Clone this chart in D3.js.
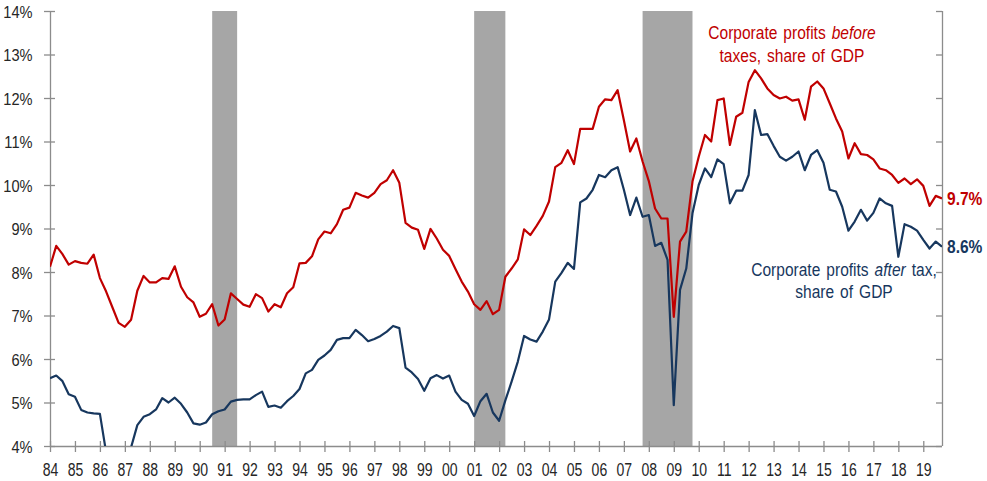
<!DOCTYPE html>
<html>
<head>
<meta charset="utf-8">
<script src="https://cdn.jsdelivr.net/npm/d3@7"></script>
<style>
  html, body { margin: 0; padding: 0; background: #fff; }
  svg { display: block; }
  text { font-family: "Liberation Sans", Arial, sans-serif; }
</style>
</head>
<body>
<svg id="chart" width="987" height="481"></svg>
<script>
// ---- Data (quarterly, 1984Q1 .. 2019Q4), % of GDP ----
const startYear = 1984;
const beforeTax = [
  8.12, 8.60, 8.41, 8.17,   // 84
  8.25, 8.21, 8.19, 8.40,   // 85
  7.86, 7.55, 7.19, 6.83,   // 86
  6.74, 6.90, 7.57, 7.91,   // 87
  7.76, 7.76, 7.86, 7.84,   // 88
  8.13, 7.66, 7.42, 7.30,   // 89
  6.97, 7.04, 7.26, 6.77,   // 90
  6.91, 7.51, 7.38, 7.25,   // 91
  7.20, 7.49, 7.40, 7.09,   // 92
  7.26, 7.19, 7.51, 7.65,   // 93
  8.20, 8.21, 8.36, 8.75,   // 94
  8.93, 8.89, 9.10, 9.43,   // 95
  9.48, 9.82, 9.76, 9.71,   // 96
  9.82, 10.02, 10.11, 10.34, // 97
  10.05, 9.13, 9.02, 8.97,  // 98
  8.53, 8.99, 8.77, 8.51,   // 99
  8.37, 8.07, 7.78, 7.55,   // 00
  7.26, 7.13, 7.33, 7.03,   // 01
  7.13, 7.89, 8.08, 8.29,   // 02
  8.98, 8.85, 9.06, 9.29,   // 03
  9.62, 10.41, 10.51, 10.80, // 04
  10.48, 11.29, 11.29, 11.29, // 05
  11.80, 11.97, 11.95, 12.18, // 06
  11.49, 10.77, 11.07, 10.54, // 07
  10.09, 9.46, 9.23, 9.23,  // 08
  6.97, 8.70, 8.93, 10.08,  // 09
  10.65, 11.15, 11.00, 11.95, // 10
  11.99, 10.92, 11.57, 11.66, // 11
  12.37, 12.64, 12.45, 12.22, // 12
  12.07, 11.99, 12.03, 11.94, // 13
  11.97, 11.50, 12.26, 12.38, // 14
  12.22, 11.88, 11.53, 11.23, // 15
  10.61, 10.96, 10.71, 10.69, // 16
  10.59, 10.38, 10.34, 10.23, // 17
  10.05, 10.15, 10.02, 10.13, // 18
  9.98, 9.52, 9.75, 9.69    // 19
];
const afterTax = [
  5.56, 5.62, 5.49, 5.19,   // 84
  5.13, 4.83, 4.77, 4.75,   // 85
  4.74, 3.85, 3.60, 3.50,   // 86
  3.60, 3.97, 4.48, 4.67,   // 87
  4.73, 4.84, 5.10, 5.00,   // 88
  5.11, 4.97, 4.77, 4.52,   // 89
  4.49, 4.54, 4.73, 4.80,   // 90
  4.84, 5.02, 5.06, 5.07,   // 91
  5.07, 5.17, 5.25, 4.90,   // 92
  4.93, 4.88, 5.03, 5.15,   // 93
  5.31, 5.67, 5.75, 5.98,   // 94
  6.08, 6.21, 6.44, 6.48,   // 95
  6.48, 6.67, 6.55, 6.41,   // 96
  6.46, 6.53, 6.63, 6.76,   // 97
  6.71, 5.80, 5.69, 5.54,   // 98
  5.27, 5.56, 5.63, 5.55,   // 99
  5.62, 5.25, 5.06, 4.97,   // 00
  4.69, 5.03, 5.20, 4.77,   // 01
  4.58, 5.05, 5.48, 5.94,   // 02
  6.53, 6.45, 6.40, 6.63,   // 03
  6.91, 7.78, 7.98, 8.21,   // 04
  8.07, 9.60, 9.69, 9.89,   // 05
  10.23, 10.18, 10.34, 10.41, // 06
  9.89, 9.31, 9.71, 9.27,   // 07
  9.31, 8.60, 8.67, 8.28,   // 08
  4.94, 7.59, 8.08, 9.35,   // 09
  10.00, 10.38, 10.18, 10.59, // 10
  10.48, 9.58, 9.87, 9.87,  // 11
  10.23, 11.72, 11.15, 11.17, // 12
  10.90, 10.65, 10.56, 10.65, // 13
  10.77, 10.34, 10.69, 10.80, // 14
  10.51, 9.89, 9.85, 9.50,  // 15
  8.95, 9.16, 9.43, 9.18,   // 16
  9.36, 9.69, 9.58, 9.52,   // 17
  8.35, 9.10, 9.04, 8.95,   // 18
  8.74, 8.54, 8.70, 8.58    // 19
];
// Recessions (start, end) in fractional years
const recessionStarts = [1990.5, 2001.0, 2007.75];
const recessionEnds   = [1991.5, 2002.25, 2009.75];
// Axis ticks
const yearTicks = d3.range(1984, 2020);
const yearLabels = yearTicks.map(v => String(v % 100).padStart(2, "0"));
const yTicks = [4, 5, 6, 7, 8, 9, 10, 11, 12, 13, 14];
const yLabels = yTicks.map(v => v + "%");
const endLabels = ["9.7%", "8.6%"];

// ---- Layout ----
const svg = d3.select("#chart");
const mLeft = 50, mRight = 942, mTop = 11, mBottom = 446;
const RED = "#C00000", BLUE = "#17375E", GREY_AXIS = "#8C8C8C", TXT = "#262626";
const SX_X = 0.76, SX_Y = 0.86, SX_T = 0.84;   // horizontal condensing of text

const x = d3.scaleLinear().domain([1984, 2019.75]).range([mLeft, mRight]);
const y = d3.scaleLinear().domain([4, 14]).range([mBottom, mTop]);

svg.append("rect").attr("width", 987).attr("height", 481).attr("fill", "#fff");

svg.append("defs").append("clipPath").attr("id", "plot")
  .append("rect").attr("x", mLeft).attr("y", mTop)
  .attr("width", mRight - mLeft).attr("height", mBottom - mTop);

// Recession bars
svg.append("g").selectAll("rect")
  .data(recessionStarts.map((s, i) => [s, recessionEnds[i]]))
  .join("rect")
  .attr("x", d => x(d[0]))
  .attr("width", d => x(d[1]) - x(d[0]))
  .attr("y", y(14))
  .attr("height", y(4) - y(14))
  .attr("fill", "#A6A6A6");

// Axes
const yAxisL = d3.axisLeft(y).tickValues(yTicks).tickFormat((d, i) => yLabels[i]).tickSize(6).tickPadding(11);
const gL = svg.append("g").attr("transform", `translate(${mLeft},0)`).call(yAxisL);
gL.select(".domain").attr("d", `M0.5,${mTop}V${mBottom}`).attr("stroke", GREY_AXIS).attr("stroke-width", 1.3);
gL.selectAll(".tick line").attr("x1", 5).attr("x2", -6).attr("stroke", GREY_AXIS).attr("stroke-width", 1.3);
gL.selectAll(".tick text").attr("font-size", 17).attr("fill", TXT)
  .attr("font-family", "'Liberation Sans', Arial, sans-serif")
  .attr("x", -17.5 / SX_Y).attr("dy", "0.36em")
  .attr("transform", `scale(${SX_Y},1)`);

const yAxisR = d3.axisLeft(y).tickValues(yTicks).tickFormat("").tickSize(6);
const gR = svg.append("g").attr("transform", `translate(${mRight},0)`).call(yAxisR);
gR.select(".domain").attr("d", `M0.5,${mTop}V${mBottom}`).attr("stroke", GREY_AXIS).attr("stroke-width", 1.3);
gR.selectAll(".tick line").attr("stroke", GREY_AXIS).attr("stroke-width", 1.3);

const xAxis = d3.axisBottom(x).tickValues(yearTicks).tickFormat((d, i) => yearLabels[i]).tickSize(6).tickPadding(12);
const gX = svg.append("g").attr("transform", `translate(0,${mBottom})`).call(xAxis);
gX.select(".domain").attr("d", `M${mLeft},0.5H${mRight}`).attr("stroke", GREY_AXIS).attr("stroke-width", 1.3);
gX.selectAll(".tick line").attr("y1", -5).attr("y2", 6).attr("stroke", GREY_AXIS).attr("stroke-width", 1.3);
gX.selectAll(".tick text").attr("font-size", 18.5).attr("fill", TXT)
  .attr("font-family", "'Liberation Sans', Arial, sans-serif")
  .attr("y", 17).attr("dy", "0.71em")
  .attr("transform", `scale(${SX_X},1)`);

// Lines
const line = d3.line()
  .x((d, i) => x(startYear + i / 4))
  .y(d => y(d));

const lines = svg.append("g").attr("clip-path", "url(#plot)");
lines.append("path").datum(beforeTax).attr("d", line)
  .attr("fill", "none").attr("stroke", RED).attr("stroke-width", 2.2).attr("stroke-linejoin", "round");
lines.append("path").datum(afterTax).attr("d", line)
  .attr("fill", "none").attr("stroke", BLUE).attr("stroke-width", 2.2).attr("stroke-linejoin", "round");

// End labels
svg.append("text")
  .attr("transform", `translate(947,${y(beforeTax[beforeTax.length - 1]) + 6.5}) scale(${SX_T},1)`)
  .attr("font-size", 18.5).attr("font-weight", "bold").attr("fill", RED).text(endLabels[0]);
svg.append("text")
  .attr("transform", `translate(947,${y(afterTax[afterTax.length - 1]) + 6.5}) scale(${SX_T},1)`)
  .attr("font-size", 18.5).attr("font-weight", "bold").attr("fill", BLUE).text(endLabels[1]);

// Annotations
const a1 = svg.append("text").attr("text-anchor", "middle").attr("font-size", 18.5).attr("fill", RED)
  .attr("transform", `translate(792,0) scale(${SX_T},1)`).attr("word-spacing", 2);
const r1 = a1.append("tspan").attr("x", 0).attr("y", 39);
r1.append("tspan").text("Corporate profits ");
r1.append("tspan").attr("font-style", "italic").text("before");
a1.append("tspan").attr("x", 0).attr("y", 62).text("taxes, share of GDP");

const a2 = svg.append("text").attr("text-anchor", "middle").attr("font-size", 18.5).attr("fill", BLUE)
  .attr("transform", `translate(844,0) scale(${SX_T},1)`).attr("word-spacing", 2);
const l1 = a2.append("tspan").attr("x", 0).attr("y", 276);
l1.append("tspan").text("Corporate profits ");
l1.append("tspan").attr("font-style", "italic").text("after");
l1.append("tspan").text(" tax,");
a2.append("tspan").attr("x", 0).attr("y", 298).text("share of GDP");
</script>
</body>
</html>
